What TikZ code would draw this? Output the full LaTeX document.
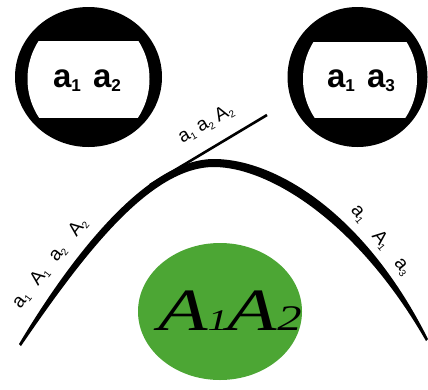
\documentclass[tikz,border=0pt]{standalone}
\usepackage{fontspec}
\setmainfont{Liberation Serif}
\setsansfont{Liberation Sans}
\definecolor{leafgreen}{RGB}{76,166,52}
% small lowered index used in all labels
\newcommand\lsub[1]{\raisebox{-0.15em}{\scalebox{0.52}{#1}}}
\begin{document}
\begin{tikzpicture}[x=1pt,y=-1pt,
  ringtext/.style={font=\sffamily\bfseries\fontsize{33}{33}\selectfont, anchor=base, inner sep=0pt},
  arclabel/.style={font=\sffamily\fontsize{19}{19}\selectfont, inner sep=0pt}]
\useasboundingbox (0,0) rectangle (428,389);

% left ring with a flattened window
\fill[black] (88.5,77) ellipse [x radius=73.5, y radius=70];
\begin{scope}
  \clip (0,41) rectangle (428,117);
  \fill[white] (88.5,79) ellipse [x radius=61, y radius=66];
\end{scope}
\node[ringtext] (r1) at (87,87) {a\lsub{1}\hspace{12pt}a\lsub{2}};

% right ring with a flattened window
\fill[black] (357.5,77) ellipse [x radius=70, y radius=70];
\begin{scope}
  \clip (0,42) rectangle (428,117);
  \fill[white] (360,79) ellipse [x radius=57, y radius=64];
\end{scope}
\node[ringtext] (r2) at (361,87) {a\lsub{1}\hspace{12pt}a\lsub{3}};

% green disc
\fill[leafgreen] (220,311.5) ellipse [x radius=82, y radius=68.5];
\node[anchor=base, inner sep=0pt] (g) at (230,330)
  {\scalebox{1.35}[1]{\itshape\fontsize{60}{60}\selectfont A{\fontsize{30}{30}\selectfont 1}A{\fontsize{36}{36}\selectfont 2}}};

% arch drawn as a filled band, thick at the crest and thin at both ends
\fill[black] (19,344) .. controls (77,247) and (150,159) .. (214,159)
  .. controls (273,159) and (363,210) .. (428,339)
  -- (426,341) .. controls (356,219) and (267,167) .. (214,167)
  .. controls (150,167) and (84,254) .. (21,346) -- cycle;

% straight branch leaving the arch
\coordinate (t0) at (150,185);
\coordinate (t1) at (267,115);
\draw[line width=2.6pt] (t0) -- (t1);

% labels along the arch and the branch
\node[arclabel, rotate=30] (lt) at (206,124)
  {a\lsub{1}\hspace{5pt}a\lsub{2}\hspace{5pt}A\lsub{2}};
\node[arclabel, rotate=52] (ll) at (50,263)
  {a\lsub{1}\hspace{13pt}A\lsub{1}\hspace{12pt}a\lsub{2}\hspace{16pt}A\lsub{2}};
\node[arclabel, rotate=-50.5] (lr) at (381,240)
  {a\lsub{1}\hspace{17pt}A\lsub{1}\hspace{17pt}a\lsub{3}};
\end{tikzpicture}
\end{document}
